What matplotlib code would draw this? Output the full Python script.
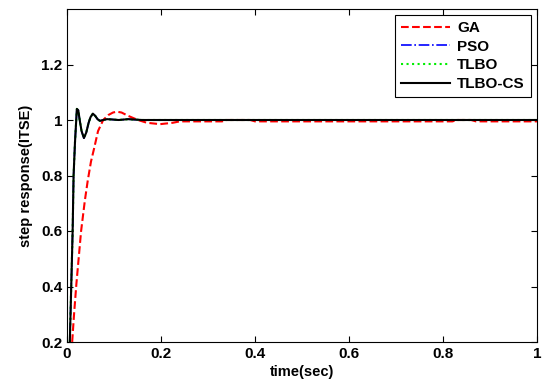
import matplotlib
matplotlib.use("Agg")
import matplotlib.pyplot as plt

plt.rcParams['font.family'] = ['Liberation Sans', 'DejaVu Sans']
plt.rcParams['font.weight'] = 'bold'

# GA response
t_ga = [0.0, 0.006, 0.011, 0.015, 0.020, 0.030, 0.038, 0.044, 0.051, 0.058, 0.066, 0.077,
        0.088, 0.098, 0.106, 0.116, 0.130, 0.151, 0.170, 0.198, 0.225, 0.24, 0.33, 0.34,
        0.39, 0.40, 0.82, 0.83, 0.86, 0.87, 1.0]
y_ga = [0.0, 0.05, 0.2, 0.3, 0.41, 0.60, 0.71, 0.78, 0.85, 0.90, 0.96, 1.0,
        1.018, 1.027, 1.03, 1.027, 1.015, 1.0, 0.99, 0.985, 0.99, 0.995, 0.995, 1.0,
        1.0, 0.995, 0.995, 1.0, 1.0, 0.995, 0.995]

# TLBO-CS response (PSO and TLBO nearly coincide with it)
t_cs = [0.0, 0.006, 0.009, 0.012, 0.014, 0.017, 0.021, 0.024, 0.027, 0.031, 0.036,
        0.041, 0.046, 0.050, 0.055, 0.060, 0.065, 0.070, 0.077, 0.085, 0.095, 0.11, 0.13,
        0.16, 0.2, 1.0]
y_cs = [0.0, 0.2, 0.4, 0.6, 0.8, 0.92, 1.04, 1.035, 1.0, 0.96, 0.935,
        0.955, 0.99, 1.01, 1.023, 1.015, 1.003, 0.997, 1.0, 1.003, 1.002, 1.0, 1.003,
        1.0, 1.0, 1.0]
y_pso = y_cs
y_tlbo = y_cs

labels = ['GA', 'PSO', 'TLBO', 'TLBO-CS']
xticks = [0, 0.2, 0.4, 0.6, 0.8, 1]
yticks = [0.2, 0.4, 0.6, 0.8, 1, 1.2]

fig = plt.figure(figsize=(5.42, 3.85), dpi=100)
ax = fig.add_axes([67/542, 1-342/385, 470/542, 333/385])

ax.plot(t_ga, y_ga, color='red', linestyle='--', linewidth=1.5, label=labels[0], zorder=3)
ax.plot(t_cs, y_pso, color='blue', linestyle='-.', linewidth=1.2, label=labels[1], zorder=2)
ax.plot(t_cs, y_tlbo, color='#00ee00', linestyle=':', linewidth=1.5, label=labels[2], zorder=2)
ax.plot(t_cs, y_cs, color='black', linestyle='-', linewidth=1.5, label=labels[3], zorder=4)

ax.set_xlim(0, 1)
ax.set_ylim(0.2, 1.4)
ax.set_xticks(xticks)
ax.set_xticklabels(['0', '0.2', '0.4', '0.6', '0.8', '1'])
ax.set_yticks(yticks)
ax.set_yticklabels(['0.2', '0.4', '0.6', '0.8', '1', '1.2'])
ax.tick_params(direction='in', top=True, right=True, labelsize=11, length=4, width=0.8)
for lab in ax.get_xticklabels() + ax.get_yticklabels():
    lab.set_fontweight('bold')
for s in ax.spines.values():
    s.set_linewidth(0.8)

ax.set_xlabel('time(sec)', fontsize=10.5, fontweight='bold', labelpad=3)
ax.set_ylabel('step response(ITSE)', fontsize=10.5, fontweight='bold', labelpad=6)

leg = ax.legend(loc='upper right', bbox_to_anchor=(1.0, 1.0), borderaxespad=0.4, fontsize=11,
                frameon=True, fancybox=False, edgecolor='black', framealpha=1,
                handlelength=3.2, borderpad=0.4, labelspacing=0.3, handletextpad=0.5)
leg.get_frame().set_linewidth(0.8)
for txt in leg.get_texts():
    txt.set_fontweight('bold')

fig.savefig('out.png', dpi=100)
